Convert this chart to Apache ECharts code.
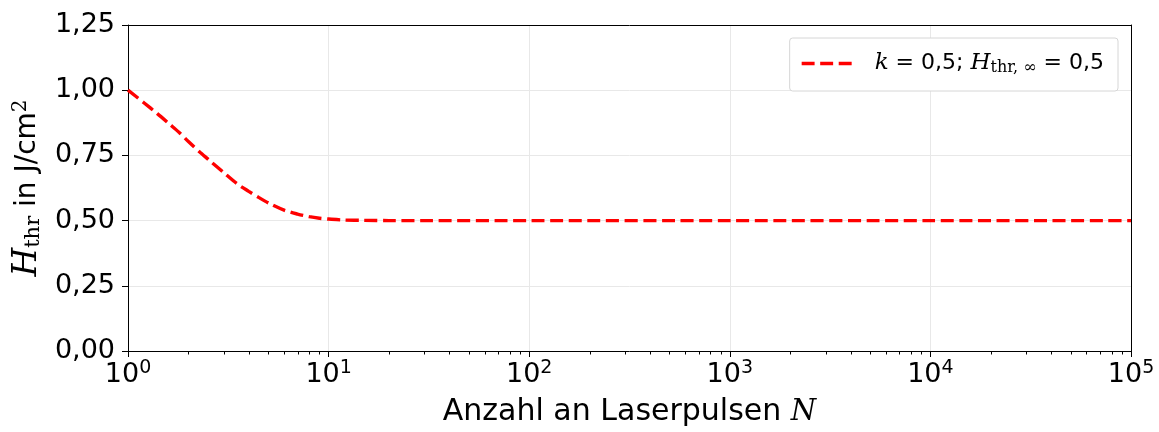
<!DOCTYPE html>
<html>
<head>
<meta charset="utf-8">
<script src="https://cdn.jsdelivr.net/npm/echarts@6/dist/echarts.min.js"></script>
<style>
html,body{margin:0;padding:0;background:#fff;}
#chart{width:1159px;height:432px;}
</style>
</head>
<body>
<div id="chart"></div>
<script>
// Data
const pulsesN = [1, 1.2, 1.4, 1.6, 1.8, 2, 2.3, 2.6, 3, 3.5, 4, 4.5, 5, 6, 7, 8, 9, 10, 12, 15, 20, 30, 100, 1000, 10000, 100000];
const thresholdH = [1.0, 0.952, 0.91, 0.872, 0.838, 0.803, 0.76, 0.725, 0.684, 0.641, 0.612, 0.588, 0.568, 0.54, 0.525, 0.515, 0.509, 0.506, 0.502, 0.501, 0.5, 0.5, 0.5, 0.5, 0.5, 0.5];
const xTickExponents = ['0', '1', '2', '3', '4', '5'];
const yTickLabels = ['0,00', '0,25', '0,50', '0,75', '1,00', '1,25'];

// minor tick positions of the log axis (2..9 of each decade)
const minorTicks = [];
for (let d = 1; d < 100000; d *= 10) {
  for (let m = 2; m <= 9; m++) minorTicks.push(m * d);
}

const serif = '"DejaVu Serif", serif';
const sans = '"DejaVu Sans", sans-serif';

const chart = echarts.init(document.getElementById('chart'), null, {renderer: 'canvas'});
chart.setOption({
  animation: false,
  backgroundColor: '#fff',
  grid: {left: 128, right: 28, top: 25, bottom: 78, show: false},
  legend: {
    show: true,
    right: 41,
    top: 38,
    orient: 'horizontal',
    backgroundColor: '#fff',
    borderColor: '#d6d6d6',
    borderWidth: 1,
    borderRadius: 3,
    padding: [14, 14, 15, 12],
    itemWidth: 50,
    itemHeight: 3.5,
    itemGap: 10,
    icon: 'path://M0,0h13v3.5h-13z M18.6,0h13v3.5h-13z M37.2,0h13v3.5h-13z',
    formatter: function () {
      return '{i|k}{n| = 0,5; }{i|H}{sub|thr, ∞}{n| = 0,5}';
    },
    textStyle: {
      color: '#000',
      padding: [0, 0, 0, 18],
      rich: {
        i: {fontFamily: serif, fontStyle: 'italic', fontSize: 23, color: '#000'},
        n: {fontFamily: sans, fontSize: 22, color: '#000'},
        sub: {fontFamily: serif, fontSize: 16, color: '#000', verticalAlign: 'bottom', padding: [9, 0, 0, 0]}
      }
    },
    data: [{name: 'curve', itemStyle: {color: '#ff0000'}}]
  },
  xAxis: [{
    type: 'log',
    logBase: 10,
    min: 1,
    max: 100000,
    position: 'bottom',
    name: '{n|Anzahl an Laserpulsen }{i|N}',
    nameLocation: 'middle',
    nameGap: 46,
    nameTextStyle: {
      rich: {
        n: {fontFamily: sans, fontSize: 30, color: '#000'},
        i: {fontFamily: serif, fontStyle: 'italic', fontSize: 29, color: '#000'}
      }
    },
    axisLine: {show: true, onZero: false, lineStyle: {color: '#000', width: 1}},
    axisTick: {show: true, inside: false, length: 6, lineStyle: {color: '#000', width: 1}},
    axisLabel: {
      show: true,
      margin: 8,
      formatter: function (v, idx) {
        return '{b|10}{s|' + xTickExponents[idx] + '}';
      },
      rich: {
        b: {fontFamily: sans, fontSize: 27, color: '#000'},
        s: {fontFamily: sans, fontSize: 19, color: '#000', verticalAlign: 'top', padding: [0, 0, 12, 0]}
      }
    },
    splitLine: {show: true, lineStyle: {color: '#e8e8e8', width: 1}},
    minorTick: {show: false},
    minorSplitLine: {show: false}
  }, {
    type: 'log',
    logBase: 10,
    min: 1,
    max: 100000,
    position: 'top',
    axisLine: {show: true, onZero: false, lineStyle: {color: '#000', width: 1}},
    axisTick: {show: false},
    axisLabel: {show: false},
    splitLine: {show: false}
  }],
  yAxis: [{
    type: 'value',
    min: 0,
    max: 1.25,
    interval: 0.25,
    position: 'left',
    name: '{i|H}{sub|thr}{n| in J/cm}{sup|2}',
    nameLocation: 'middle',
    nameRotate: 90,
    nameGap: 84,
    nameTextStyle: {
      rich: {
        i: {fontFamily: serif, fontStyle: 'italic', fontSize: 33, color: '#000'},
        n: {fontFamily: sans, fontSize: 28, color: '#000'},
        sub: {fontFamily: serif, fontSize: 21, color: '#000', verticalAlign: 'bottom', padding: [12, 0, 0, 0]},
        sup: {fontFamily: serif, fontSize: 20, color: '#000', verticalAlign: 'top', padding: [0, 0, 12, 0]}
      }
    },
    axisLine: {show: true, onZero: false, lineStyle: {color: '#000', width: 1}},
    axisTick: {show: true, inside: false, length: 6, lineStyle: {color: '#000', width: 1}},
    axisLabel: {
      margin: 13,
      fontFamily: sans,
      fontSize: 27,
      color: '#000',
      formatter: function (v, idx) { return yTickLabels[idx]; }
    },
    splitLine: {show: true, lineStyle: {color: '#e8e8e8', width: 1}}
  }, {
    type: 'value',
    min: 0,
    max: 1.25,
    interval: 0.25,
    position: 'right',
    axisLine: {show: true, onZero: false, lineStyle: {color: '#000', width: 1}},
    axisTick: {show: false},
    axisLabel: {show: false},
    splitLine: {show: false}
  }],
  series: [{
    name: 'curve',
    type: 'line',
    xAxisIndex: 0,
    yAxisIndex: 0,
    data: pulsesN.map((n, i) => [n, thresholdH[i]]),
    smooth: 0.3,
    symbol: 'none',
    lineStyle: {color: '#ff0000', width: 3.4, type: [13, 5.6]},
    itemStyle: {color: '#ff0000'},
    z: 5
  }, {
    name: 'minorTicks',
    type: 'custom',
    xAxisIndex: 0,
    yAxisIndex: 0,
    clip: false,
    silent: true,
    data: minorTicks.map(v => [v, 0]),
    renderItem: function (params, api) {
      const p = api.coord([api.value(0), api.value(1)]);
      const x = Math.round(p[0]) + 0.5;
      const y = Math.round(p[1]);
      return {
        type: 'line',
        shape: {x1: x, y1: y, x2: x, y2: y + 3.5},
        style: {stroke: '#000', lineWidth: 1}
      };
    },
    z: 6
  }]
});
</script>
</body>
</html>
